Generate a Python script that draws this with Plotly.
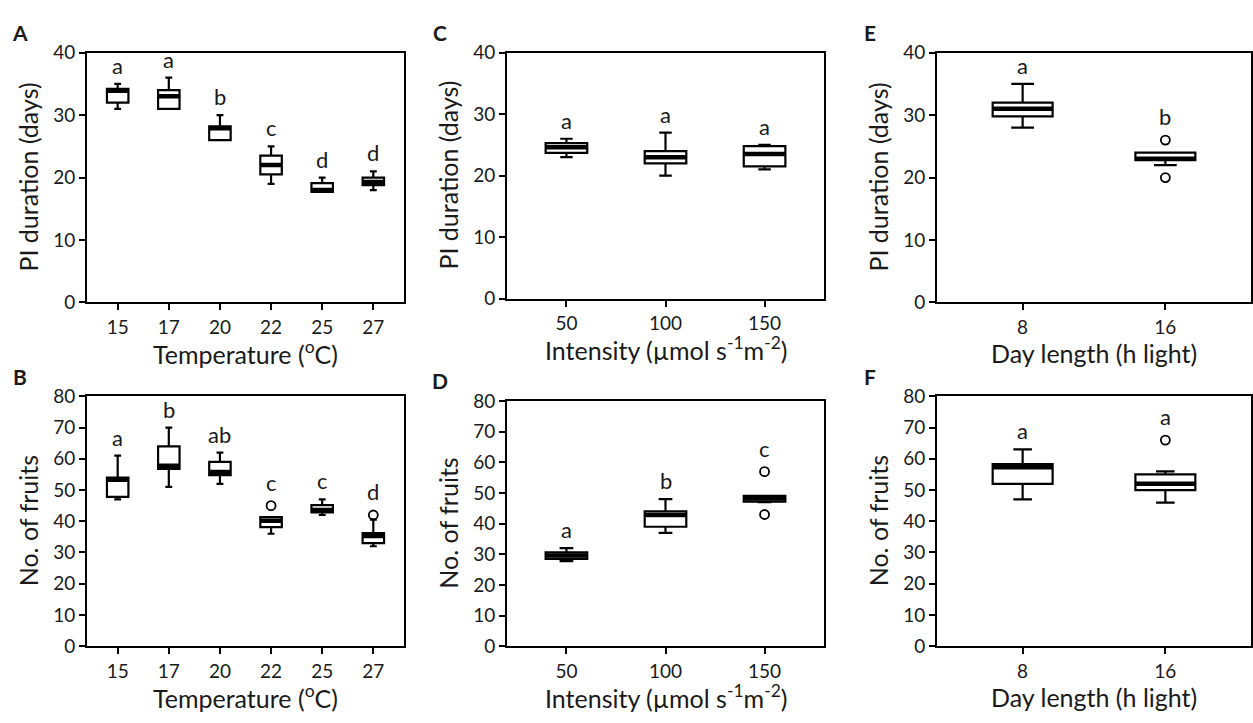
import plotly.graph_objects as go

# ---------------- data ----------------
temp_cats = ["15", "17", "20", "22", "25", "27"]
int_cats = ["50", "100", "150"]
day_cats = ["8", "16"]

# Panel A: PI duration vs temperature
A_lower = [31, 31, 26, 19, 17.7, 18]
A_q1 = [32, 31, 26, 20.5, 17.7, 18.8]
A_med = [33.9, 33, 27.9, 22, 18.0, 19.3]
A_q3 = [34.2, 34, 28.2, 23.5, 19.1, 20]
A_upper = [35, 36, 30, 25, 20, 21]
A_out_x, A_out_y = [], []
A_letters = ["a", "a", "b", "c", "d", "d"]

# Panel B: No. of fruits vs temperature
B_lower = [47, 51, 52, 36, 42, 32]
B_q1 = [47.8, 56.8, 54.8, 38.1, 42.8, 33]
B_med = [53.3, 57.8, 55.8, 40.2, 43.6, 35.3]
B_q3 = [54, 64, 59, 41.3, 45.2, 36.2]
B_upper = [61, 70, 62, 41.3, 47, 40.5]
B_out_x, B_out_y = ["22", "27"], [45, 42]
B_letters = ["a", "b", "ab", "c", "c", "d"]

# Panel C: PI duration vs light intensity
C_lower = [23, 20, 21]
C_q1 = [23.7, 22, 21.5]
C_med = [24.6, 23, 23.5]
C_q3 = [25.3, 24, 24.8]
C_upper = [26, 27, 25]
C_out_x, C_out_y = [], []
C_letters = ["a", "a", "a"]

# Panel D: No. of fruits vs light intensity
D_lower = [27.8, 37, 47]
D_q1 = [28.5, 39, 47.2]
D_med = [29.6, 42.8, 48.2]
D_q3 = [30.6, 44, 49.1]
D_upper = [32, 48, 49.1]
D_out_x, D_out_y = ["150", "150"], [57, 43]
D_letters = ["a", "b", "c"]

# Panel E: PI duration vs day length
E_lower = [28, 22]
E_q1 = [29.8, 22.8]
E_med = [31, 23]
E_q3 = [32, 24]
E_upper = [35, 24]
E_out_x, E_out_y = ["16", "16"], [26, 20]
E_letters = ["a", "b"]

# Panel F: No. of fruits vs day length
F_lower = [47, 46]
F_q1 = [52, 50]
F_med = [57.3, 52]
F_q3 = [58.3, 55]
F_upper = [63, 56]
F_out_x, F_out_y = ["16"], [66]
F_letters = ["a", "a"]

y_ticks_pi = [0, 10, 20, 30, 40]
y_ticks_fr = [0, 10, 20, 30, 40, 50, 60, 70, 80]

# ---------------- layout helpers ----------------
W, H = 1253, 723
FONT = "Lato"
TXT = "#1a1a1a"


def fx(px):
    return px / W


def fy(py):
    return 1 - py / H


panels = [
    ("A", 1, 87, 404, 42, 300, temp_cats, (A_lower, A_q1, A_med, A_q3, A_upper), (A_out_x, A_out_y), A_letters,
     "PI duration (days)", "Temperature (<sup>o</sup>C)", 40, y_ticks_pi, 0.32),
    ("B", 2, 87, 404, 397, 655, temp_cats, (B_lower, B_q1, B_med, B_q3, B_upper), (B_out_x, B_out_y), B_letters,
     "No. of fruits", "Temperature (<sup>o</sup>C)", 80, y_ticks_fr, 0.32),
    ("C", 3, 507, 824, 42, 296, int_cats, (C_lower, C_q1, C_med, C_q3, C_upper), (C_out_x, C_out_y), C_letters,
     "PI duration (days)", "Intensity (µmol s<sup>-1</sup>m<sup>-2</sup>)", 40, y_ticks_pi, 0.3),
    ("D", 4, 507, 824, 402, 655, int_cats, (D_lower, D_q1, D_med, D_q3, D_upper), (D_out_x, D_out_y), D_letters,
     "No. of fruits", "Intensity (µmol s<sup>-1</sup>m<sup>-2</sup>)", 80, y_ticks_fr, 0.33),
    ("E", 5, 937, 1251, 42, 300, day_cats, (E_lower, E_q1, E_med, E_q3, E_upper), (E_out_x, E_out_y), E_letters,
     "PI duration (days)", "Day length (h light)", 40, y_ticks_pi, 0.38),
    ("F", 6, 937, 1251, 397, 655, day_cats, (F_lower, F_q1, F_med, F_q3, F_upper), (F_out_x, F_out_y), F_letters,
     "No. of fruits", "Day length (h light)", 80, y_ticks_fr, 0.31),
]

fig = go.Figure()
layout = dict(
    width=W, height=H,
    margin=dict(l=0, r=0, t=0, b=0),
    paper_bgcolor="white", plot_bgcolor="white",
    showlegend=False,
    boxmode="overlay", boxgap=0.4,
    font=dict(family=FONT, color=TXT),
)
annotations = []

for (lab, i, x0, x1, yt, yb, cats, stats, outs, letters, ytitle, xtitle, ymax, yticks, ww) in panels:
    xa = "x" if i == 1 else f"x{i}"
    ya = "y" if i == 1 else f"y{i}"
    lo, q1, med, q3, up = stats
    fig.add_trace(go.Box(
        x=cats, q1=q1, median=med, q3=q3, lowerfence=lo, upperfence=up,
        xaxis=xa, yaxis=ya, fillcolor="white",
        line=dict(color="black", width=2.2), whiskerwidth=ww,
        boxpoints=False, hoverinfo="skip"))
    # thick median bar
    fig.add_trace(go.Box(
        x=cats, q1=med, median=med, q3=med, lowerfence=med, upperfence=med,
        xaxis=xa, yaxis=ya, fillcolor="black",
        line=dict(color="black", width=4.5), whiskerwidth=0.0,
        boxpoints=False, hoverinfo="skip"))
    ox, oy = outs
    if ox:
        fig.add_trace(go.Scatter(
            x=ox, y=oy, mode="markers", xaxis=xa, yaxis=ya,
            marker=dict(symbol="circle-open", size=9, color="black", line=dict(width=1.8, color="black")),
            hoverinfo="skip"))
    # significance letters (category axes: annotation x = category index)
    for k, (c, u, letter) in enumerate(zip(cats, up, letters)):
        pts = [v for xx, v in zip(ox, oy) if xx == c and v > u]
        top = max(pts) if pts else u
        annotations.append(dict(
            x=k, y=top, xref=xa, yref=ya, text=letter, showarrow=False,
            xanchor="center", yanchor="bottom", yshift=8 if pts else 3,
            font=dict(size=22, family=FONT, color=TXT)))

    n = len(cats)
    axis_common = dict(showline=True, linecolor="black", linewidth=2, mirror=True,
                       ticks="outside", ticklen=6, tickwidth=2, tickcolor="black",
                       showgrid=False, zeroline=False,
                       tickfont=dict(size=19, family=FONT, color=TXT))
    layout["xaxis" if i == 1 else f"xaxis{i}"] = dict(
        axis_common, type="category", range=[-0.6, n - 0.4],
        domain=[fx(x0), fx(x1)], anchor=ya, ticklabelstandoff=1)
    layout["yaxis" if i == 1 else f"yaxis{i}"] = dict(
        axis_common, range=[0, ymax], tickvals=yticks,
        domain=[fy(yb), fy(yt)], anchor=xa)

    # axis titles & panel letters
    annotations.append(dict(
        x=fx((x0 + x1) / 2), y=fy(yb + 52), xref="paper", yref="paper",
        text=xtitle, showarrow=False, xanchor="center", yanchor="middle",
        font=dict(size=25, family=FONT, color=TXT)))
    annotations.append(dict(
        x=fx(x0 - 59), y=fy((yt + yb) / 2), xref="paper", yref="paper",
        text=ytitle, showarrow=False, textangle=-90, xanchor="center", yanchor="middle",
        font=dict(size=25, family=FONT, color=TXT)))
    annotations.append(dict(
        x=fx(x0 - 67), y=fy(yt - 21), xref="paper", yref="paper",
        text=f"<b>{lab}</b>", showarrow=False, xanchor="center", yanchor="middle",
        font=dict(size=21, family=FONT, color=TXT)))

layout["annotations"] = annotations
fig.update_layout(**layout)
fig.write_html("out.html")
